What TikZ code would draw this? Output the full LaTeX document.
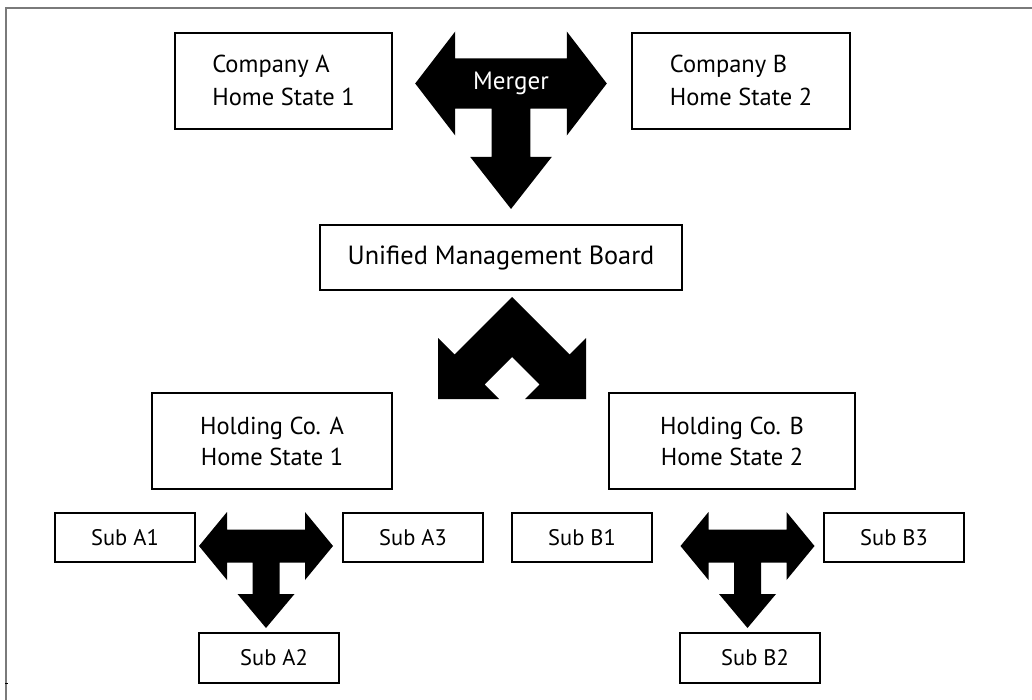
\documentclass[tikz,border=0pt]{standalone}
\usepackage{fontspec}
\setmainfont{PT Sans}
\begin{document}
\begin{tikzpicture}[x=1pt,y=-1pt]
\tikzset{
  rbox/.style={draw=black, line width=1.6pt, fill=white, inner sep=0pt, align=center},
  bigbox/.style={rbox, minimum height=96pt},
  subbox/.style={rbox, minimum width=140pt, minimum height=49pt, font=\fontsize{22.5}{26}\selectfont},
  comptext/.style={font=\fontsize{24.5}{33}\selectfont},
  holdtext/.style={font=\fontsize{24.5}{31}\selectfont},
  blockarrow/.style={fill=black, draw=none},
  pics/tarrow/.style={code={
    \fill[blockarrow] (-67,0) -- (-39,-34) -- (-39,-16.5) -- (39,-16.5) -- (39,-34) -- (67,0)
      -- (39,34) -- (39,16.5) -- (13.5,16.5) -- (13.5,48) -- (28.5,48) -- (0,82)
      -- (-28.5,48) -- (-13.5,48) -- (-13.5,16.5) -- (-39,16.5) -- (-39,34) -- cycle;
  }}
}
\useasboundingbox (0,0) rectangle (1032,700);
\fill[white] (0,0) rectangle (1032,700);
% frame
\draw[color={rgb,255:red,122;green,122;blue,122}, line width=2pt] (5.5,700) -- (5.5,8.5) -- (1032,8.5);
\draw[line width=1pt] (5,683) -- (8,683);

% top boxes
\node[bigbox, minimum width=217pt, comptext, align=left] (compA) at (283.5,81) {\raisebox{2pt}{Company A}\\\raisebox{2pt}{Home State 1}};
\node[bigbox, minimum width=218pt, comptext, align=left] (compB) at (741,81) {\raisebox{2pt}{Company B}\\\raisebox{2pt}{Home State 2}};

% merger arrow
\pic[xscale=1.43, yscale=1.53] at (511,83.5) {tarrow};
\node[text=white, font=\fontsize{25}{30}\selectfont] (merger) at (511,83) {Merger};

% unified board
\node[rbox, minimum width=362pt, minimum height=65pt, font=\fontsize{26.3}{30}\selectfont] (umb) at (501,257.5) {Unified Management Board};

% split arrow
\fill[blockarrow] (512,297) -- (454.5,354.5) -- (438,338) -- (438,399) -- (499,399)
  -- (484.5,384.5) -- (512,357) -- (539.5,384.5) -- (525,399) -- (586,399)
  -- (586,338) -- (569.5,354.5) -- cycle;

% holding boxes
\node[bigbox, minimum width=240pt, holdtext] (holdA) at (272,441) {Holding Co. A\\Home State 1};
\node[bigbox, minimum width=246pt, holdtext] (holdB) at (732,441) {Holding Co. B\\Home State 2};

% subsidiaries A
\node[subbox] (subA1) at (125,537.5) {Sub A1};
\node[subbox] (subA3) at (413,537.5) {Sub A3};
\node[subbox, minimum height=50pt] (subA2) at (269,658) {\hspace{10pt}Sub A2};
\pic at (266,546) {tarrow};

% subsidiaries B
\node[subbox] (subB1) at (582,537.5) {Sub B1};
\node[subbox] (subB3) at (894,537.5) {Sub B3};
\node[subbox, minimum height=50pt] (subB2) at (750,658) {\hspace{10pt}Sub B2};
\pic at (747.5,546) {tarrow};
\end{tikzpicture}
\end{document}
